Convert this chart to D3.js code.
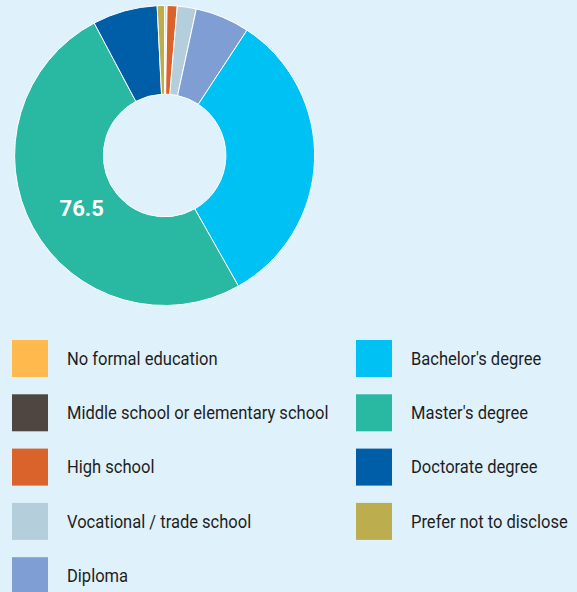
<!DOCTYPE html>
<html>
<head>
<meta charset="utf-8">
<script src="https://cdn.jsdelivr.net/npm/d3@7"></script>
<style>
  html, body { margin: 0; padding: 0; background: #dff1fb; }
  svg { display: block; }
</style>
</head>
<body>
<svg id="chart" width="577" height="592"></svg>
<script>
// Highest level of education completed
const categories = [
  "No formal education",
  "Middle school or elementary school",
  "High school",
  "Vocational / trade school",
  "Diploma",
  "Bachelor's degree",
  "Master's degree",
  "Doctorate degree",
  "Prefer not to disclose"
];
const values = [0.3, 0.1, 1.65, 3.1, 8.9, 49.4, 76.5, 10.6, 1.2];
const colors = [
  "#ffb94c", "#4f4641", "#d9632a", "#b5cedc", "#7f9fd4",
  "#00c1f3", "#29b8a1", "#005ea9", "#bcae4f"
];

const svg = d3.select("#chart");
const cx = 164.6, cy = 155.5;
const outerR = 150, innerR = 61.3;

const data = categories.map((c, i) => ({ category: c, value: values[i], color: colors[i] }));

const pie = d3.pie().sort(null).value(d => d.value);
const arc = d3.arc().innerRadius(innerR).outerRadius(outerR);
const labelArc = d3.arc().innerRadius(98).outerRadius(98);

const arcs = pie(data);
const g = svg.append("g").attr("transform", `translate(${cx},${cy})`);

g.selectAll("path")
  .data(arcs)
  .join("path")
  .attr("d", arc)
  .attr("fill", d => d.data.color)
  .attr("stroke", "#ffffff")
  .attr("stroke-width", 1);

// value label on the largest slice
const maxVal = d3.max(values);
g.selectAll("text.val")
  .data(arcs.filter(d => d.data.value === maxVal))
  .join("text")
  .attr("class", "val")
  .attr("transform", d => `translate(${labelArc.centroid(d)})`)
  .attr("text-anchor", "middle")
  .attr("dx", 3)
  .attr("dy", "0.62em")
  .attr("fill", "#ffffff")
  .attr("font-family", "Roboto, sans-serif")
  .attr("font-weight", "bold")
  .attr("font-size", 22)
  .text(d => d3.format(".1f")(d.data.value));

// legend: two columns
const rows = 5;
const colX = [12, 356];
const rowY = d3.range(rows).map(i => 340 + i * 54.3);
const legend = svg.append("g");
const items = legend.selectAll("g")
  .data(data)
  .join("g")
  .attr("transform", (d, i) => `translate(${colX[Math.floor(i / rows)]},${rowY[i % rows]})`);

items.append("rect")
  .attr("width", 36)
  .attr("height", 37)
  .attr("fill", d => d.color);

// slightly condensed label text
items.append("text")
  .attr("transform", "translate(55,18.5) scale(0.945,1)")
  .attr("dy", "0.36em")
  .attr("fill", "#1e1e1e")
  .attr("font-family", "Roboto, sans-serif")
  .attr("font-size", 17.5)
  .text(d => d.category);
</script>
</body>
</html>
